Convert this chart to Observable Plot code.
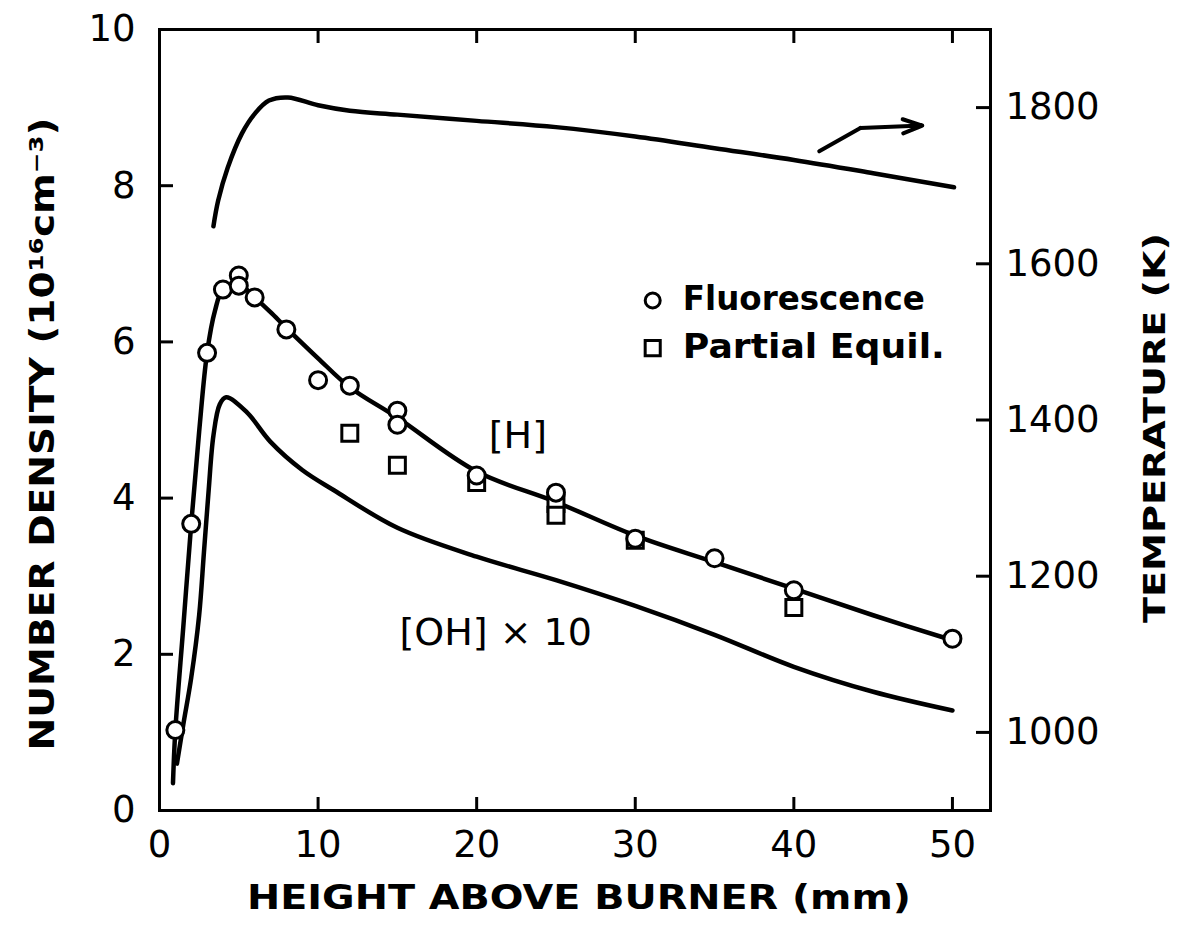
<!DOCTYPE html>
<html><head><meta charset="utf-8">
<script src="https://cdn.jsdelivr.net/npm/d3@7"></script>
<script src="https://cdn.jsdelivr.net/npm/@observablehq/plot@0.6"></script>
<style>html,body{margin:0;padding:0;background:#fff;} svg{display:block}</style>
</head><body><div id="chart"></div>
<script>
// ---- data ----
// height above burner (mm) / number density (1e16 cm^-3)
const fluorX = [1, 2, 3, 4, 5, 5, 6, 8, 10, 12, 15, 15, 20, 25, 30, 35, 40, 50];
const fluorH = [1.03, 3.67, 5.86, 6.67, 6.85, 6.72, 6.57, 6.16, 5.51, 5.44, 5.12, 4.94, 4.29, 4.07, 3.48, 3.23, 2.82, 2.2];
const equilX = [12, 15, 20, 25, 25, 30, 40];
const equilH = [4.83, 4.42, 4.2, 3.93, 3.78, 3.46, 2.6];
// [H] calculated curve
const hCurveX = [0.85, 1, 1.5, 2, 2.5, 3, 3.5, 4, 5, 6, 7, 8, 10, 12, 15, 20, 25, 30, 35, 40, 45, 50];
const hCurveY = [0.35, 1.03, 2.35, 3.67, 4.85, 5.86, 6.4, 6.67, 6.74, 6.57, 6.38, 6.18, 5.79, 5.42, 5.03, 4.34, 3.95, 3.52, 3.18, 2.84, 2.5, 2.18];
// [OH] x 10 curve
const ohCurveX = [1.1, 1.5, 2, 2.5, 2.8, 3.1, 3.4, 3.8, 4.2, 5.5, 7, 9, 11, 15, 20, 25, 30, 35, 40, 45, 50];
const ohCurveY = [0.6, 1.1, 1.7, 2.5, 3.3, 4.1, 4.8, 5.2, 5.29, 5.1, 4.72, 4.36, 4.1, 3.62, 3.25, 2.95, 2.62, 2.25, 1.84, 1.52, 1.28];
// temperature curve (K)
const tempX = [3.4, 3.7, 4.3, 5.2, 6.0, 6.9, 8.1, 10, 12, 15, 20, 25, 30, 35, 40, 45, 50.1];
const tempK = [1648, 1681, 1723, 1767, 1792, 1809, 1813, 1803, 1796, 1791, 1783, 1775, 1763, 1748, 1733, 1716, 1698];
// ticks
const xTicks = [0, 10, 20, 30, 40, 50];
const yTicks = [0, 2, 4, 6, 8, 10];
const tTicks = [1000, 1200, 1400, 1600, 1800];
// labels
const xTitle = "HEIGHT ABOVE BURNER (mm)";
const yTitle = "NUMBER DENSITY (10¹⁶cm⁻³)";
const tTitle = "TEMPERATURE (K)";
const legendLabels = ["Fluorescence", "Partial Equil."];
const curveLabels = ["[H]", "[OH] × 10"];

// right axis mapping: T = T0 + TK * density-units
const T0 = 900, TK = 100;
const toY = t => (t - T0) / TK;

const zip = (xs, ys) => xs.map((x, i) => ({x, y: ys[i]}));
const fluor = zip(fluorX, fluorH);
const equil = zip(equilX, equilH);
const hCurve = zip(hCurveX, hCurveY);
const ohCurve = zip(ohCurveX, ohCurveY);
const temp = tempX.map((x, i) => ({x, y: toY(tempK[i])}));

const FONT = "DejaVu Sans";
const lw = 4.5;

const chart = Plot.plot({
  width: 1177, height: 931,
  marginLeft: 159, marginRight: 187, marginTop: 29, marginBottom: 121,
  style: {fontFamily: FONT, fontSize: "36px", background: "#fff", color: "#000"},
  x: {domain: [0, 52.4], axis: null},
  y: {domain: [0, 10], axis: null},
  marks: [
    Plot.frame({strokeWidth: 3}),
    // axes (ticks inward)
    Plot.axisX({anchor: "bottom", ticks: xTicks, tickSize: -13, tickPadding: 33, strokeWidth: 3, fontSize: 37, label: null}),
    Plot.axisX({anchor: "top", ticks: xTicks, tickSize: -13, strokeWidth: 3, fill: "none", label: null}),
    Plot.axisY({anchor: "left", ticks: yTicks, tickSize: -14, tickPadding: 38, strokeWidth: 3, fontSize: 37, label: null}),
    Plot.axisY({anchor: "right", ticks: tTicks.map(toY), tickFormat: d => String(Math.round(d * TK + T0)), tickSize: -15, tickPadding: 30, strokeWidth: 3, fontSize: 37, textAnchor: "start", label: null}),
    // curves
    Plot.line(temp, {x: "x", y: "y", curve: "catmull-rom", strokeWidth: lw, strokeLinecap: "round"}),
    Plot.line(hCurve, {x: "x", y: "y", curve: "catmull-rom", strokeWidth: lw, strokeLinecap: "round"}),
    Plot.line(ohCurve, {x: "x", y: "y", curve: "catmull-rom", strokeWidth: lw, strokeLinecap: "round"}),
    // data points
    Plot.dot(equil, {x: "x", y: "y", symbol: "square", r: 9, stroke: "#000", fill: "#fff", strokeWidth: 3}),
    Plot.dot(fluor, {x: "x", y: "y", symbol: "circle", r: 8.5, stroke: "#000", fill: "#fff", strokeWidth: 3}),
    // arrow pointing to right axis
    Plot.line([{x: 41.6, y: 8.44}, {x: 44.2, y: 8.74}], {x: "x", y: "y", strokeWidth: 4, strokeLinecap: "round"}),
    Plot.arrow([{x1: 44.2, y1: 8.74, x2: 48.1, y2: 8.77}], {x1: "x1", y1: "y1", x2: "x2", y2: "y2", strokeWidth: 4, headLength: 22, headAngle: 40}),
    // legend
    Plot.dot(legendLabels.slice(0, 1), {x: () => 31.1, y: () => 6.53, symbol: "circle", r: 7.5, stroke: "#000", fill: "#fff", strokeWidth: 3}),
    Plot.dot(legendLabels.slice(1, 2), {x: () => 31.1, y: () => 5.92, symbol: "square", r: 8.5, stroke: "#000", fill: "#fff", strokeWidth: 3}),
    Plot.text(legendLabels, {x: () => 33.0, y: (d, i) => [6.55, 5.93][i], text: d => d, textAnchor: "start", fontSize: 34, fontWeight: "bold"}),
    // curve labels
    Plot.text(curveLabels, {x: (d, i) => [22.6, 21.2][i], y: (d, i) => [4.8, 2.28][i], text: d => d, fontSize: 38}),
    // titles
    Plot.text([xTitle], {frameAnchor: "bottom", dx: 4, dy: 98, text: d => d, fontSize: 34, fontWeight: "bold"}),
    Plot.text([yTitle], {frameAnchor: "left", textAnchor: "middle", dx: -116, dy: 14, rotate: -90, text: d => d, fontSize: 34, fontWeight: "bold"}),
    Plot.text([tTitle], {frameAnchor: "right", textAnchor: "middle", dx: 165, dy: 8, rotate: -90, text: d => d, fontSize: 31, fontWeight: "bold"})
  ]
});
document.getElementById("chart").append(chart);
// stretch titles to span the lengths of the original lettering
const fit = {[xTitle]: 664, [yTitle]: 633, [tTitle]: 390, "Fluorescence": 242, "Partial Equil.": 262};
chart.querySelectorAll("text").forEach(t => {
  const s = t.textContent;
  if (fit[s]) { t.setAttribute("textLength", fit[s]); t.setAttribute("lengthAdjust", "spacingAndGlyphs"); }
});
</script></body></html>
